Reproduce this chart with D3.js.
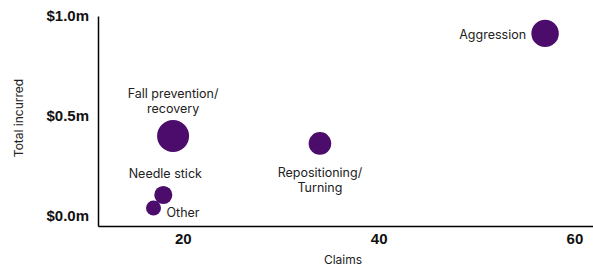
<!DOCTYPE html>
<html><head><meta charset="utf-8">
<script src="https://cdn.jsdelivr.net/npm/d3@7"></script>
<style>
html,body{margin:0;padding:0;background:#fff;}
svg{display:block;font-family:Inter, Roboto, "Noto Sans", sans-serif;}
</style></head>
<body><svg id="c" width="593" height="269"></svg>
<script>
const categories = ["Aggression","Fall prevention/\nrecovery","Repositioning/\nTurning","Needle stick","Other"];
const claims = [57, 19, 34, 18, 17];
const totalIncurred = [0.913, 0.40, 0.363, 0.105, 0.04];
const avgCost = [16.0, 21.0, 10.7, 5.8, 2.4];
const xTicks = [20, 40, 60];
const yTicks = [0, 0.5, 1.0];
// label placement: [anchor, dx, dy] relative to bubble centre
const labelPos = [["end",-19,1],["middle",0,-42],["middle",0,29],["middle",2,-21],["start",13,5]];

const svg = d3.select("#c");
const x = d3.scaleLinear().domain([11.33, 62.2]).range([98, 596]);
const y = d3.scaleLinear().domain([-0.05, 1.0]).range([226, 16]);
const r = d3.scaleLinear().domain([d3.min(avgCost), d3.max(avgCost)]).range([7.5, 16]);
const color = "#4b0c6b";

const xAxis = svg.append("g").attr("transform","translate(0,226)")
  .call(d3.axisBottom(x).tickValues(xTicks).tickSize(0).tickPadding(7).tickFormat(d3.format("d")));
xAxis.select(".domain").attr("stroke","#000").attr("stroke-width",1.5);
xAxis.selectAll("text").attr("font-size",15).attr("font-weight",700).attr("fill","#111");

const yAxis = svg.append("g").attr("transform","translate(98,0)")
  .call(d3.axisLeft(y).tickValues(yTicks).tickSize(0).tickPadding(9).tickFormat(d=>"$"+d3.format(".1f")(d)+"m"));
yAxis.select(".domain").attr("stroke","#000").attr("stroke-width",1.5);
yAxis.selectAll("text").attr("font-size",15).attr("font-weight",700).attr("fill","#111");

svg.append("text").attr("x",343).attr("y",264).attr("text-anchor","middle")
  .attr("font-size",12).attr("fill","#222").text("Claims");
svg.append("text").attr("transform","translate(23,118) rotate(-90)").attr("text-anchor","middle")
  .attr("font-size",12).attr("fill","#222").text("Total incurred");

const data = categories.map((c,i)=>({c, x:claims[i], y:totalIncurred[i], s:avgCost[i], lp:labelPos[i]}));

svg.append("g").selectAll("circle").data(data).join("circle")
  .attr("cx",d=>x(d.x)).attr("cy",d=>y(d.y)).attr("r",d=>r(d.s)).attr("fill",color);

const lbl = svg.append("g").selectAll("text").data(data).join("text")
  .attr("text-anchor",d=>d.lp[0])
  .attr("x",d=>x(d.x)+d.lp[1]).attr("y",d=>y(d.y)+d.lp[2])
  .attr("font-size",12.5).attr("fill","#222");
lbl.each(function(d){
  const lines = d.c.split("\n");
  const t = d3.select(this);
  lines.forEach((l,i)=>{
    t.append("tspan").attr("x",x(d.x)+d.lp[1]).attr("dy", i===0?"0.35em":"15").text(l);
  });
});
</script></body></html>
